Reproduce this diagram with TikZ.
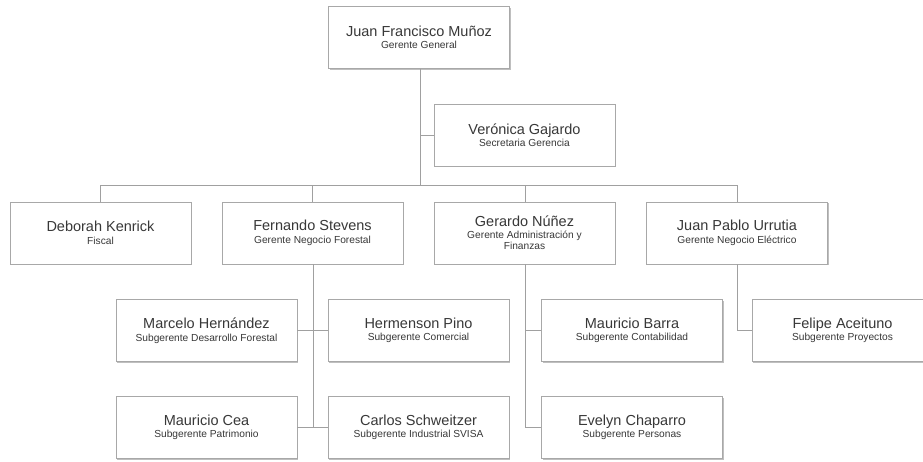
\documentclass[tikz,border=0pt]{standalone}
\usepackage{fontspec}
\setmainfont{Liberation Sans}
\usetikzlibrary{shadows}
\definecolor{txt}{HTML}{383838}
\definecolor{edge}{HTML}{A8A8A8}
\definecolor{lin}{HTML}{A0A0A0}
\newcommand{\bigf}{\fontsize{14.5}{16}\selectfont}
\newcommand{\smallf}{\fontsize{10.2}{14.8}\selectfont}
\newcommand{\pname}[2]{\bigf #1\\[0.5pt]\smallf #2}
\tikzset{
  person/.style={draw=edge, line width=0.9pt, fill=white, minimum width=181pt, minimum height=62pt,
    inner sep=0pt, align=center, text=txt,
    drop shadow={shadow xshift=1pt, shadow yshift=-1.2pt, opacity=0.25, fill=black}},
  conn/.style={draw=lin, line width=0.9pt}
}
\begin{document}
\begin{tikzpicture}[x=1pt, y=-1pt]
\useasboundingbox (0,0) rectangle (923,461);
\clip (0,0) rectangle (923,461);
\fill[white] (0,0) rectangle (923,461);
% nodes
\node[person] (jf) at (419,37.5) {\pname{Juan Francisco Muñoz}{Gerente General}};
\node[person] (vg) at (524.5,135) {\pname{Verónica Gajardo}{Secretaria Gerencia}};
\node[person] (dk) at (100.5,233) {\pname{Deborah Kenrick}{Fiscal}};
\node[person] (fs) at (312.5,233) {\pname{Fernando Stevens}{Gerente Negocio Forestal}};
\node[person] (gn) at (524.5,233) {\bigf Gerardo Núñez\\[-0.5pt]\smallf Gerente Administración y\\[-0.5pt]\smallf Finanzas};
\node[person] (jp) at (737,233) {\pname{Juan Pablo Urrutia}{Gerente Negocio Eléctrico}};
\node[person] (mh) at (206.5,330.5) {\pname{Marcelo Hernández}{Subgerente Desarrollo Forestal}};
\node[person] (hp) at (418.5,330.5) {\pname{Hermenson Pino}{Subgerente Comercial}};
\node[person] (mb) at (632,330.5) {\pname{Mauricio Barra}{Subgerente Contabilidad}};
\node[person] (fa) at (842.5,330.5) {\pname{Felipe Aceituno}{Subgerente Proyectos}};
\node[person] (mc) at (206.5,427.5) {\pname{Mauricio Cea}{Subgerente Patrimonio}};
\node[person] (cs) at (418.5,427.5) {\pname{Carlos Schweitzer}{Subgerente Industrial SVISA}};
\node[person] (ec) at (632,427.5) {\pname{Evelyn Chaparro}{Subgerente Personas}};
% connector helpers
\coordinate (bus) at (420,185);
\coordinate (busL) at (100.5,185);
\coordinate (busR) at (737,185);
\coordinate (fsEnd) at (313,427.5);
\coordinate (gnEnd) at (525.5,427.5);
% connectors
\draw[conn] ([xshift=1pt]jf.south) -- (bus);
\draw[conn] (vg.west) -- (vg.west -| bus);
\draw[conn] (busL) -- (busR);
\draw[conn] (busL) -- (dk.north);
\draw[conn] (fs.north |- bus) -- (fs.north);
\draw[conn] ([xshift=1pt]gn.north |- bus) -- ([xshift=1pt]gn.north);
\draw[conn] (busR) -- (jp.north);
\draw[conn] ([xshift=0.5pt]fs.south) -- (fsEnd);
\draw[conn] (mh.east) -- (hp.west);
\draw[conn] (mc.east) -- (cs.west);
\draw[conn] ([xshift=1pt]gn.south) -- (gnEnd);
\draw[conn] (mb.west -| gnEnd) -- (mb.west);
\draw[conn] (gnEnd) -- (ec.west);
\draw[conn] (jp.south) |- (fa.west);
\end{tikzpicture}
\end{document}
